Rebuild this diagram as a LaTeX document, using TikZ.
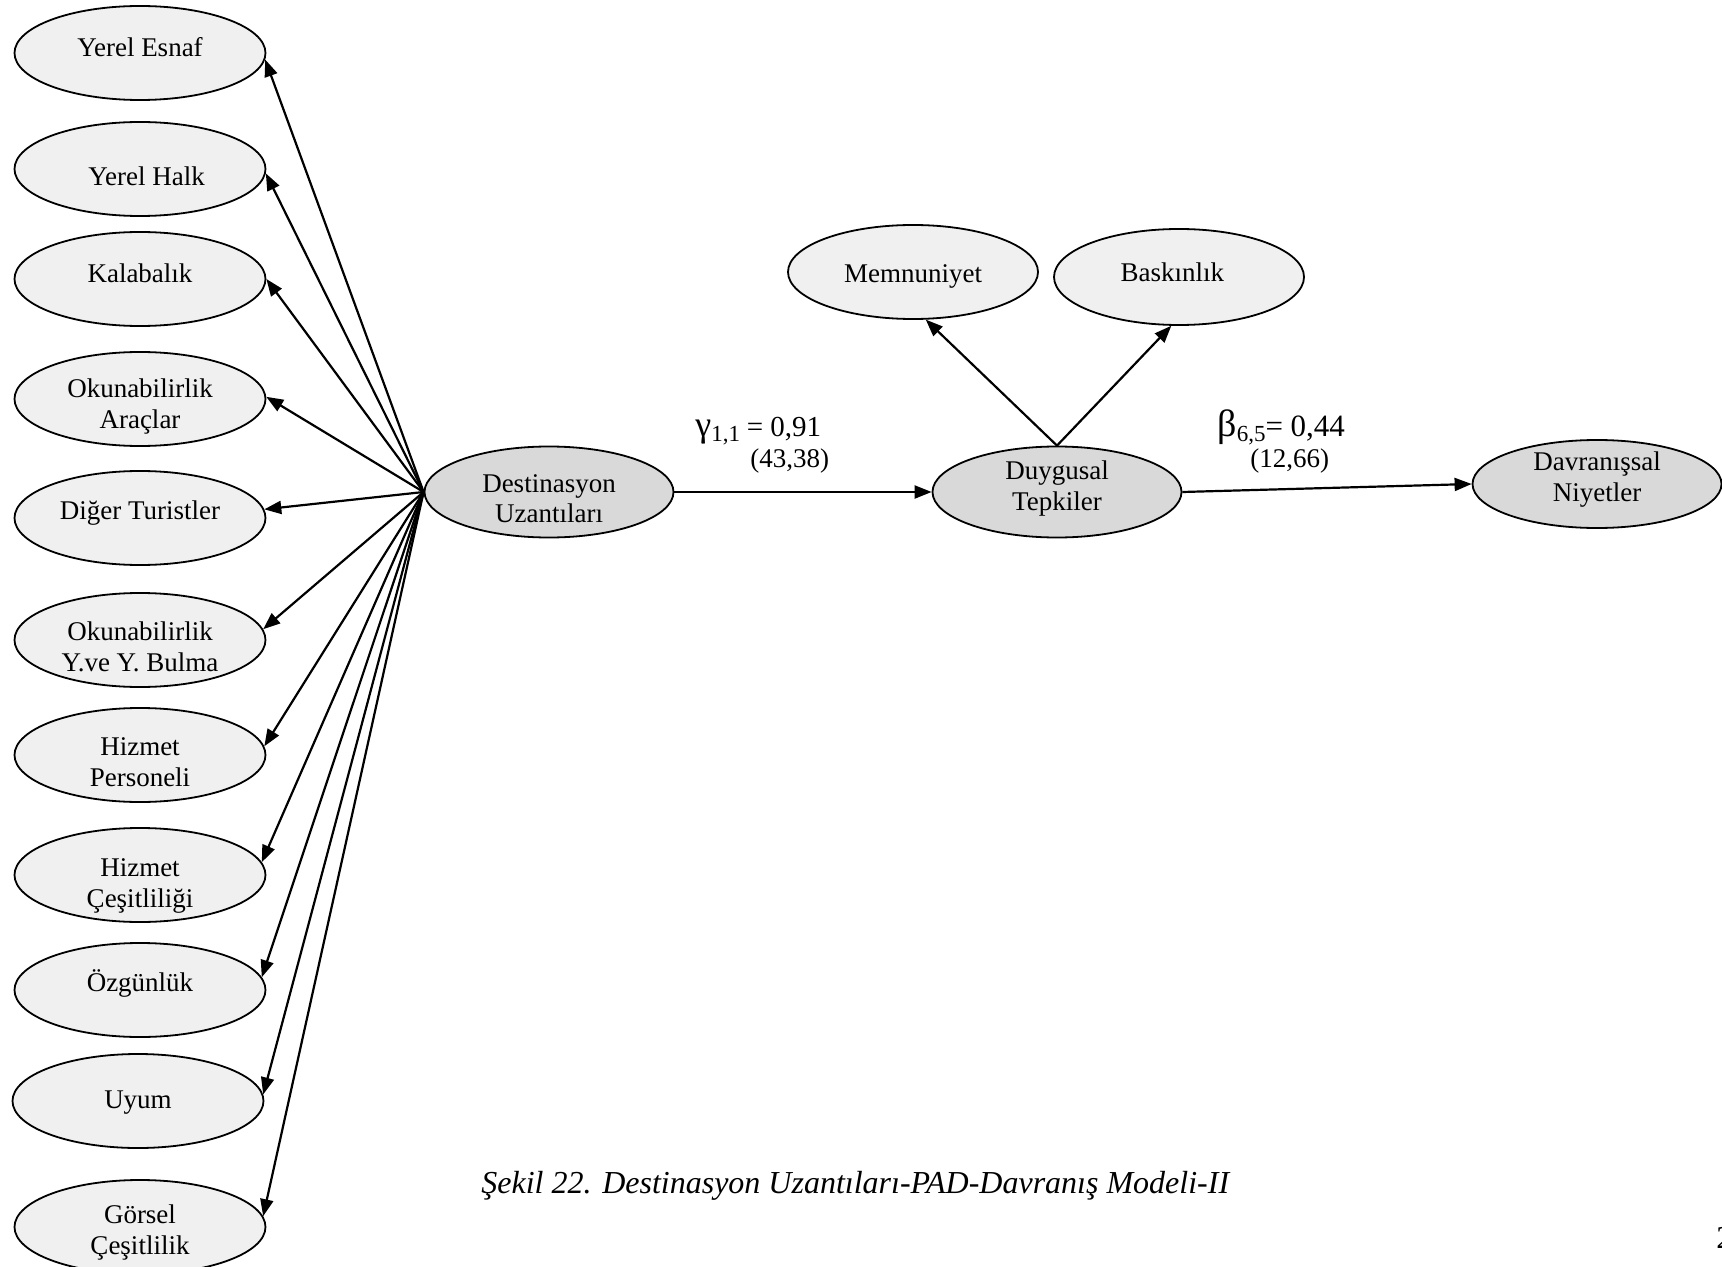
\documentclass[tikz,border=0pt]{standalone}
\usepackage{fontspec}
\setmainfont{Liberation Serif}
\usetikzlibrary{arrows.meta,shapes.geometric}

\definecolor{obsfill}{HTML}{F0F0F0}
\definecolor{latfill}{HTML}{D9D9D9}

% ellipse text: horizontal nudge, vertical nudge, lines
\newcommand{\elltext}[3]{\hspace*{#1}\raisebox{\dimexpr #2-1.9pt\relax}[\height][\depth]{\begin{tabular}{@{}c@{}}#3\end{tabular}}}

\tikzset{
  every node/.style={font=\fontsize{13.5}{15.3}\selectfont},
  obs/.style={ellipse, draw, line width=0.9pt, fill=obsfill, inner sep=0pt,
              minimum width=125.5pt, minimum height=47pt},
  lat/.style={obs, fill=latfill, minimum width=124.5pt, minimum height=45.5pt},
  path/.style={line width=1.1pt, -{Triangle[length=8.5pt,width=6.5pt]}},
  coef/.style={anchor=base west, inner sep=0pt},
}

\begin{document}
\begin{tikzpicture}[x=0.5pt, y=-0.5pt]
\useasboundingbox (0,0) rectangle (1722,1267);
\fill[white] (0,0) rectangle (1722,1267);
\clip (0,0) rectangle (1722,1267);

% indicators of Destinasyon Uzantilari
\node[obs] (ye) at (140,53)   {\elltext{0pt}{3.3pt}{Yerel Esnaf}};
\node[obs] (yh) at (140,169)  {\elltext{6.6pt}{-3.3pt}{Yerel Halk}};
\node[obs] (ka) at (140,279)  {\elltext{0pt}{3.3pt}{Kalabalık}};
\node[obs] (oa) at (140,399)  {\elltext{0pt}{-2pt}{Okunabilirlik\\Araçlar}};
\node[obs] (dt) at (140,518)  {\elltext{0pt}{4.4pt}{Diğer Turistler}};
\node[obs] (oy) at (140,640)  {\elltext{0pt}{-3pt}{Okunabilirlik\\Y.ve Y. Bulma}};
\node[obs] (hp) at (140,755)  {\elltext{0pt}{-3pt}{Hizmet\\Personeli}};
\node[obs] (hc) at (140,875)  {\elltext{0pt}{-3.5pt}{Hizmet\\Çeşitliliği}};
\node[obs] (oz) at (140,990)  {\elltext{0pt}{4.4pt}{Özgünlük}};
\node[obs] (uy) at (138,1101) {\elltext{0pt}{1pt}{Uyum}};
\node[obs] (gc) at (140,1227) {\elltext{0pt}{-1pt}{Görsel\\Çeşitlilik}};

% latent variables
\node[lat] (du) at (549,492)  {\elltext{0pt}{-2.7pt}{Destinasyon\\Uzantıları}};
\node[lat] (dy) at (1057,492) {\elltext{0pt}{3.5pt}{Duygusal\\Tepkiler}};
\node[lat, minimum height=44pt] (dn) at (1597,484) {\elltext{0pt}{4pt}{Davranışsal\\Niyetler}};

% PAD dimensions
\node[obs, minimum width=125pt] (me) at (913,272) {\elltext{0pt}{-0.5pt}{Memnuniyet}};
\node[obs, minimum width=125pt, minimum height=48pt] (ba) at (1179,277) {\elltext{-6.6pt}{2.7pt}{Baskınlık}};

% loadings
\foreach \n/\a in {ye/-3, yh/-2, ka/0, oa/1, dt/4, oy/5, hp/4, hc/6, oz/6, uy/3, gc/5}
  \draw[path] (du.west) -- (\n.\a);
\draw[path] (dy.north) -- (me.-75);
\draw[path] (dy.north) -- (ba.-99);

% structural paths
\draw[path] (du.east) -- (dy.west);
\draw[path] (dy.east) -- (dn.west);

% coefficients
\node[coef] (g11) at (695,436) {{\fontsize{18}{18}\selectfont γ}\raisebox{-2.8pt}{\fontsize{11.5}{11.5}\selectfont 1,1} {\fontsize{14.5}{14.5}\selectfont = 0,91}};
\node[coef] (t11) at (750,467) {(43,38)};
\node[coef] (b65) at (1217,436) {{\fontsize{19}{19}\selectfont β}\raisebox{-2.8pt}{\fontsize{11.5}{11.5}\selectfont 6,5}{\fontsize{15.5}{15.5}\selectfont = 0,44}};
\node[coef] (t65) at (1250,467) {(12,66)};

% caption and page number
\node[coef] (cap) at (481,1193) {\fontsize{16}{19}\selectfont\itshape Şekil 22. Destinasyon Uzantıları-PAD-Davranış Modeli-II};
\node[coef] (pg) at (1716,1248) {\fontsize{16}{19}\selectfont 2};
\end{tikzpicture}
\end{document}
